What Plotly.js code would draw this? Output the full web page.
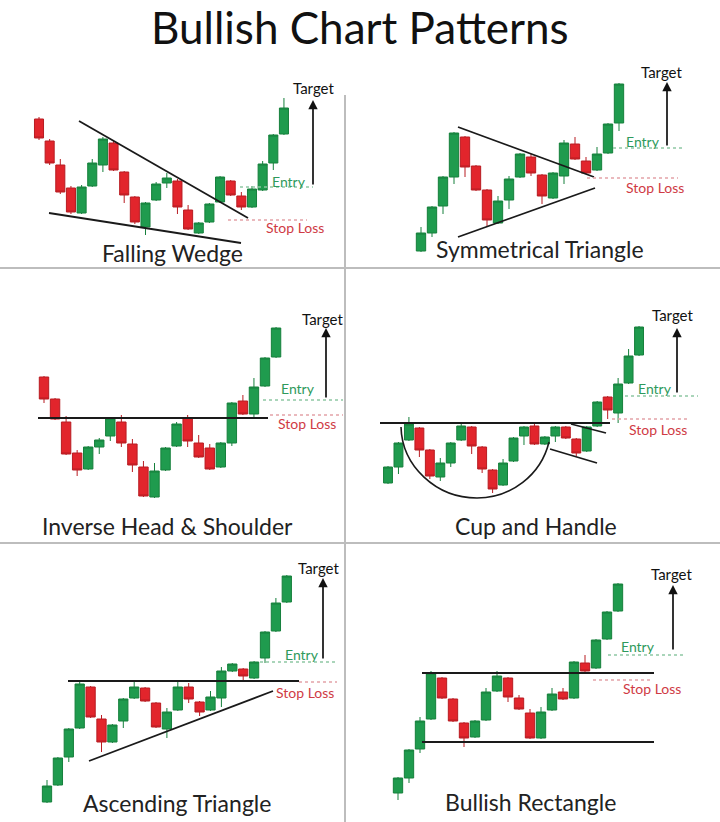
<!DOCTYPE html>
<html><head><meta charset="utf-8">
<script src="https://cdn.plot.ly/plotly-3.0.1.min.js"></script>
<style>html,body{margin:0;padding:0;background:#fff}#chart{width:720px;height:822px}</style>
</head><body><div id="chart"></div>
<script>
// ---------- DATA (prices) ----------
const mainTitle = "Bullish Chart Patterns";
const patternNames = ["Falling Wedge","Symmetrical Triangle","Inverse Head & Shoulder","Cup and Handle","Ascending Triangle","Bullish Rectangle"];
const labelTarget = "Target", labelEntry = "Entry", labelStop = "Stop Loss";

// Falling Wedge
const fwOpen  = [149,127,103,80,55,82,103,125,96,71,41,68,85,87,58,35,46,66,87,72,61,78,105,134];
const fwHigh  = [151,129,109,82,83,109,131,127,97,72,66,86,95,89,63,46,65,92,88,76,82,107,134,170];
const fwLow   = [128,103,74,54,54,81,96,97,65,44,33,67,80,54,38,34,45,65,72,58,60,77,98,133];
const fwClose = [130,105,76,56,81,105,129,98,73,46,65,84,90,61,39,45,64,91,73,61,79,104,133,160];

// Symmetrical Triangle
const stOpen  = [17,35,62,91,131,102,78,45,68,91,111,93,70,92,124,107,98,115,145];
const stHigh  = [41,62,92,136,132,103,79,72,92,115,114,94,96,128,131,111,121,145,185];
const stLow   = [16,31,54,84,91,77,41,44,59,90,92,64,69,84,108,94,97,114,137];
const stClose = [35,61,91,135,101,78,48,67,89,114,95,72,95,125,109,95,114,144,184];

// Inverse Head & Shoulder
const ihOpen  = [166,144,121,90,74,96,107,121,99,76,46,73,97,125,100,95,76,100,142,129,157,186];
const ihHigh  = [167,145,127,93,97,105,126,128,104,82,80,96,121,128,108,99,101,141,148,165,186,216];
const ihLow   = [140,123,88,67,73,89,102,96,71,46,45,72,96,96,85,73,75,97,128,124,156,185];
const ihClose = [144,124,89,73,96,103,125,100,78,47,72,95,119,102,86,74,100,140,129,156,185,215];

// Cup and Handle
const chOpen  = [60,76,103,115,93,66,80,103,116,96,73,58,82,107,117,99,107,116,104,92,117,146,130,160,188];
const chHigh  = [77,101,126,116,94,85,101,120,117,97,74,84,106,117,120,107,117,117,105,117,142,147,165,194,217];
const chLow   = [59,69,102,86,64,62,76,102,89,70,50,57,81,98,98,98,101,104,87,91,116,124,120,159,187];
const chClose = [76,100,119,93,67,80,100,117,97,74,54,80,105,116,99,106,116,105,90,116,141,133,159,187,216];

// Ascending Triangle
const atOpen  = [20,37,65,94,135,103,80,101,124,134,119,93,112,135,120,112,124,151,153,144,164,191,220];
const atHigh  = [42,65,94,142,136,107,98,124,140,135,120,114,140,139,121,131,155,159,154,161,191,224,247];
const atLow   = [19,36,60,93,104,70,79,94,123,120,94,84,111,119,106,111,115,150,140,143,159,190,219];
const atClose = [36,64,93,138,105,80,97,123,135,121,95,110,135,123,110,125,151,158,146,160,190,219,246];

// Bullish Rectangle
const brOpen  = [29,44,73,103,144,123,99,85,102,131,144,124,109,84,112,130,124,159,154,183,211];
const brHigh  = [45,73,105,151,145,124,100,102,134,151,145,127,113,115,134,134,161,167,183,211,239];
const brLow   = [22,39,69,102,123,100,75,84,101,130,120,112,83,83,111,122,123,150,153,182,210];
const brClose = [44,72,101,149,124,101,84,101,130,146,125,113,84,110,128,123,160,151,182,210,238];

// ---------- LAYOUT GEOMETRY (pixels of the 720x822 picture) ----------
const W = 720, H = 822;
const panels = [
  {o:fwOpen,h:fwHigh,l:fwLow,c:fwClose, x0:0,   x1:345, top:60,  bot:268, c0:39,  dx:10.65},
  {o:stOpen,h:stHigh,l:stLow,c:stClose, x0:345, x1:720, top:60,  bot:268, c0:421, dx:11.0},
  {o:ihOpen,h:ihHigh,l:ihLow,c:ihClose, x0:0,   x1:345, top:268, bot:543, c0:44,  dx:11.05},
  {o:chOpen,h:chHigh,l:chLow,c:chClose, x0:345, x1:720, top:268, bot:543, c0:388, dx:10.46},
  {o:atOpen,h:atHigh,l:atLow,c:atClose, x0:0,   x1:345, top:543, bot:822, c0:47,  dx:10.9},
  {o:brOpen,h:brHigh,l:brLow,c:brClose, x0:345, x1:720, top:543, bot:822, c0:398, dx:11.0}
];

const GREEN = '#1f9b4e', GREEN_LINE = '#16803c';
const RED = '#e2252c', RED_LINE = '#b81c22';
const FONT = 'Lato, "Open Sans", sans-serif';

const data = [];
const layout = {
  width: W, height: H, margin:{l:0,r:0,t:0,b:0},
  paper_bgcolor:'#fff', plot_bgcolor:'rgba(0,0,0,0)',
  showlegend:false, boxgap:0.15, boxgroupgap:0,
  shapes:[], annotations:[], font:{family:FONT}
};

panels.forEach((p,k)=>{
  const sfx = k===0 ? '' : String(k+1);
  data.push({
    type:'candlestick', xaxis:'x'+sfx, yaxis:'y'+sfx,
    x:p.o.map((_,i)=>i), open:p.o, high:p.h, low:p.l, close:p.c,
    increasing:{line:{color:GREEN_LINE,width:1}, fillcolor:GREEN},
    decreasing:{line:{color:RED_LINE,width:1}, fillcolor:RED},
    hoverinfo:'skip'
  });
  layout['xaxis'+sfx] = {
    domain:[p.x0/W, p.x1/W], range:[(p.x0-p.c0)/p.dx, (p.x1-p.c0)/p.dx],
    visible:false, fixedrange:true, rangeslider:{visible:false}, anchor:'y'+sfx
  };
  layout['yaxis'+sfx] = {
    domain:[1-p.bot/H, 1-p.top/H], range:[0, p.bot-p.top],
    visible:false, fixedrange:true, anchor:'x'+sfx
  };
});

// helpers to place decorations in paper units from picture pixels
const PX = x => x/W, PY = y => 1 - y/H;
function seg(x0,y0,x1,y1,color,width,dash){
  layout.shapes.push({type:'line',xref:'paper',yref:'paper',x0:PX(x0),y0:PY(y0),x1:PX(x1),y1:PY(y1),
    line:{color:color,width:width,dash:dash||'solid'}});
}
function txt(x,y,text,size,color){
  layout.annotations.push({xref:'paper',yref:'paper',x:PX(x),y:PY(y),text:text,showarrow:false,
    xanchor:'center',yanchor:'middle',font:{family:FONT,size:size,color:color}});
}
function arrow(x,yTail,yHead){
  layout.annotations.push({xref:'paper',yref:'paper',x:PX(x),y:PY(yHead),ax:0,ay:yTail-yHead,
    axref:'pixel',ayref:'pixel',text:'',showarrow:true,arrowhead:2,arrowsize:1.1,arrowwidth:1.7,arrowcolor:'#111'});
}
const LINE = '#1a1a1a', ENTRY_DOT = '#8fc7a4', STOP_DOT = '#e3a3a8';
const ENTRY_C = '#2e9a5c', STOP_C = '#cf3b45';
const TS = 23, LS = 14, TGS = 15;

// dividers
seg(345,95,345,822,'#bdbdbd',2);
seg(0,268,720,268,'#bdbdbd',2);
seg(0,543,720,543,'#bdbdbd',2);

// Panel 1 decorations
seg(79,121,248,218,LINE,1.8); seg(49,213,241,243,LINE,1.8);
seg(240,187,313,187,ENTRY_DOT,1.6,'dot'); seg(228,220,307,220,STOP_DOT,1.6,'dot');
arrow(313,186,100);
txt(313,88,labelTarget,TGS,'#111'); txt(289,181,labelEntry,LS,ENTRY_C); txt(295,227,labelStop,LS,STOP_C);
txt(172,253,patternNames[0],TS,'#222');

// Panel 2
seg(458,127,594,177,LINE,1.8); seg(458,237,595,188,LINE,1.8);
seg(613,148,682,148,ENTRY_DOT,1.6,'dot'); seg(587,178,678,178,STOP_DOT,1.6,'dot');
arrow(667,147,82);
txt(661,72,labelTarget,TGS,'#111'); txt(643,141,labelEntry,LS,ENTRY_C); txt(655,187,labelStop,LS,STOP_C);
txt(540,249,patternNames[1],TS,'#222');

// Panel 3
seg(38,418,268,418,LINE,1.8);
seg(263,400,343,400,ENTRY_DOT,1.6,'dot'); seg(270,415,343,415,STOP_DOT,1.6,'dot');
arrow(326,399,328);
txt(322,319,labelTarget,TGS,'#111'); txt(298,388,labelEntry,LS,ENTRY_C); txt(307,423,labelStop,LS,STOP_C);
txt(167,526,patternNames[2],TS,'#222');

// Panel 4
seg(380,423,610,423,LINE,1.8);
layout.shapes.push({type:'path',xref:'paper',yref:'paper',
  path:'M '+PX(401)+','+PY(427)+' C '+PX(402)+','+PY(466)+' '+PX(436)+','+PY(498)+' '+PX(477)+','+PY(498)+
       ' C '+PX(511)+','+PY(498)+' '+PX(541)+','+PY(475)+' '+PX(549)+','+PY(442),
  line:{color:LINE,width:1.6}});
seg(571,424,606,433,LINE,1.8); seg(550,449,597,463,LINE,1.8);
seg(625,396,698,396,ENTRY_DOT,1.6,'dot'); seg(612,419,688,419,STOP_DOT,1.6,'dot');
arrow(677,394,328);
txt(672,315,labelTarget,TGS,'#111'); txt(655,388,labelEntry,LS,ENTRY_C); txt(658,429,labelStop,LS,STOP_C);
txt(536,526,patternNames[3],TS,'#222');

// Panel 5
seg(68,681,299,681,LINE,1.8); seg(89,761,273,691,LINE,1.8);
seg(260,662,337,662,ENTRY_DOT,1.6,'dot'); seg(299,682,337,682,STOP_DOT,1.6,'dot');
arrow(323,660,578);
txt(318,568,labelTarget,TGS,'#111'); txt(302,654,labelEntry,LS,ENTRY_C); txt(305,692,labelStop,LS,STOP_C);
txt(177,803,patternNames[4],TS,'#222');

// Panel 6
seg(422,673,654,673,LINE,1.8); seg(422,742,654,742,LINE,1.8);
seg(608,655,685,655,ENTRY_DOT,1.6,'dot'); seg(593,680,653,680,STOP_DOT,1.6,'dot');
arrow(673,651,585);
txt(671,574,labelTarget,TGS,'#111'); txt(638,646,labelEntry,LS,ENTRY_C); txt(652,688,labelStop,LS,STOP_C);
txt(530,802,patternNames[5],TS,'#222');

// main title as a top-anchored annotation so it stays inside the page
layout.annotations.push({xref:'paper',yref:'paper',x:0.5,y:1,xanchor:'center',yanchor:'top',
  text:mainTitle,showarrow:false,borderpad:0,font:{family:FONT,size:44,color:'#111'}});

Plotly.newPlot('chart', data, layout, {staticPlot:true, displayModeBar:false});
</script></body></html>
